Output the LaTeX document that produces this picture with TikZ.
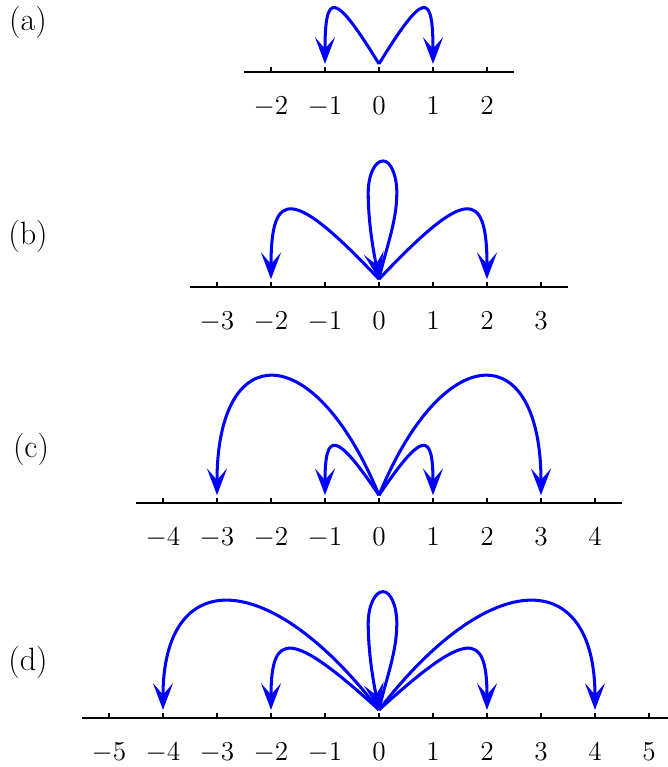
\documentclass[tikz,border=0pt]{standalone}
\usetikzlibrary{arrows.meta}
\definecolor{arcblue}{RGB}{0,0,255}
\tikzset{
  axisline/.style={line width=1.1pt, black},
  tickmark/.style={line width=0.6pt, black},
  jump/.style={arcblue, line width=1.6pt, -{Stealth[length=14pt,width=10.5pt,inset=6pt]}},
  numlabel/.style={anchor=base, font=\fontsize{15}{18}\selectfont, inner sep=0pt},
  panellabel/.style={font=\fontsize{17}{20}\selectfont, inner sep=0pt},
}
\begin{document}
\begin{tikzpicture}
\useasboundingbox (-7.0185,-14.2037) rectangle (5.3333,0);

% panel labels
\node[panellabel] (la) at (-6.5,-0.407) {(a)};
\node[panellabel] (lb) at (-6.5,-4.38) {(b)};
\node[panellabel] (lc) at (-6.444,-8.324) {(c)};
\node[panellabel] (ld) at (-6.5,-12.269) {(d)};

% ---------- panel (a)
\begin{scope}[yshift=-1.3333cm]
  \coordinate (aL) at (-2.5,0); \coordinate (aR) at (2.5,0);
  \draw[axisline] (aL) -- (aR);
  \foreach \x [count=\i] in {-2,...,2}{
    \draw[tickmark] (\x,0) -- (\x,0.1);
    \node[numlabel] (an\i) at (\x,-0.78) {$\x$};
  }
  \coordinate (a0) at (0,0.15);
  \coordinate (am1) at (-1,0.15);
  \coordinate (ap1) at (1,0.15);
  \draw[jump] (a0) .. controls +(-0.827,1.347) and +(0,1.347) .. (am1);
  \draw[jump] (a0) .. controls +(0.827,1.347) and +(0,1.347) .. (ap1);
\end{scope}

% ---------- panel (b)
\begin{scope}[yshift=-5.32cm]
  \coordinate (bL) at (-3.5,0); \coordinate (bR) at (3.5,0);
  \draw[axisline] (bL) -- (bR);
  \foreach \x [count=\i] in {-3,...,3}{
    \draw[tickmark] (\x,0) -- (\x,0.1);
    \node[numlabel] (bn\i) at (\x,-0.78) {$\x$};
  }
  \coordinate (b0) at (0,0.15);
  \coordinate (bRw) at (0.33,1.75);
  \coordinate (btop) at (0.075,2.34);
  \coordinate (bLw) at (-0.2,1.75);
  \coordinate (bm2) at (-2,0.15);
  \coordinate (bp2) at (2,0.15);
  \draw[jump] (b0) .. controls +(-1.6,1.693) and +(0,1.693) .. (bm2);
  \draw[jump] (b0) .. controls +(1.6,1.693) and +(0,1.693) .. (bp2);
  \draw[jump] (b0) .. controls +(0.12,0.55) and +(0,-0.55) .. (bRw)
                   .. controls +(0,0.326) and +(0.141,0) .. (btop)
                   .. controls +(-0.152,0) and +(0,0.326) .. (bLw)
                   .. controls +(0,-0.55) and +(-0.1,0.5) .. (b0);
\end{scope}

% ---------- panel (c)
\begin{scope}[yshift=-9.32cm]
  \coordinate (cL) at (-4.5,0); \coordinate (cR) at (4.5,0);
  \draw[axisline] (cL) -- (cR);
  \foreach \x [count=\i] in {-4,...,4}{
    \draw[tickmark] (\x,0) -- (\x,0.1);
    \node[numlabel] (cn\i) at (\x,-0.78) {$\x$};
  }
  \coordinate (c0) at (0,0.15);
  \coordinate (cm1) at (-1,0.15);
  \coordinate (cp1) at (1,0.15);
  \coordinate (cm3) at (-3,0.15);
  \coordinate (cp3) at (3,0.15);
  \draw[jump] (c0) .. controls +(-0.8,1.187) and +(0,1.187) .. (cm1);
  \draw[jump] (c0) .. controls +(0.8,1.187) and +(0,1.187) .. (cp1);
  \draw[jump] (c0) .. controls +(-1.2,2.92) and +(0,2.92) .. (cm3);
  \draw[jump] (c0) .. controls +(1.2,2.92) and +(0,2.92) .. (cp3);
\end{scope}

% ---------- panel (d)
\begin{scope}[yshift=-13.296cm]
  \coordinate (dL) at (-5.5,0); \coordinate (dR) at (5.5,0);
  \draw[axisline] (dL) -- (dR);
  \foreach \x [count=\i] in {-5,...,5}{
    \draw[tickmark] (\x,0) -- (\x,0.1);
    \node[numlabel] (dn\i) at (\x,-0.78) {$\x$};
  }
  \coordinate (d0) at (0,0.15);
  \coordinate (dRw) at (0.33,1.75);
  \coordinate (dtop) at (0.075,2.34);
  \coordinate (dLw) at (-0.2,1.75);
  \coordinate (dm2) at (-2,0.15);
  \coordinate (dp2) at (2,0.15);
  \coordinate (dm4) at (-4,0.15);
  \coordinate (dp4) at (4,0.15);
  \draw[jump] (d0) .. controls +(-1.627,1.48) and +(0,1.48) .. (dm2);
  \draw[jump] (d0) .. controls +(1.627,1.48) and +(0,1.48) .. (dp2);
  \draw[jump] (d0) .. controls +(-2.053,2.667) and +(0,2.667) .. (dm4);
  \draw[jump] (d0) .. controls +(2.053,2.667) and +(0,2.667) .. (dp4);
  \draw[jump] (d0) .. controls +(0.12,0.55) and +(0,-0.55) .. (dRw)
                   .. controls +(0,0.326) and +(0.141,0) .. (dtop)
                   .. controls +(-0.152,0) and +(0,0.326) .. (dLw)
                   .. controls +(0,-0.55) and +(-0.1,0.5) .. (d0);
\end{scope}
\end{tikzpicture}
\end{document}
